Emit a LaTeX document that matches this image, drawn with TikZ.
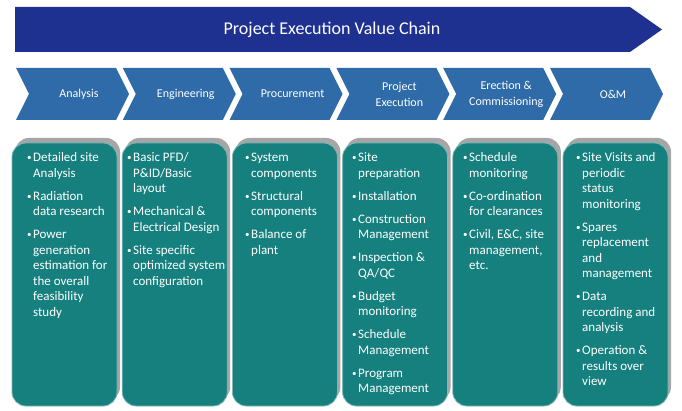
\documentclass[tikz,border=0pt]{standalone}
\usepackage{fontspec}
\setmainfont{Carlito}
\usetikzlibrary{shadows}
\definecolor{bannerblue}{HTML}{1F3190}
\definecolor{chevblue}{HTML}{2E6BA8}
\definecolor{tealbox}{HTML}{15807E}
\definecolor{tealedge}{HTML}{7FB5B4}
\definecolor{shadowgray}{HTML}{A6A6A6}
\newcommand\bul{\makebox[6pt][l]{\raisebox{1pt}{\fontsize{9}{9}\selectfont\textbullet}}}
\newcommand\ind{\hspace*{6pt}}
\begin{document}
\begin{tikzpicture}[x=1pt,y=-1pt,
  titletext/.style={text=white,font=\fontsize{18}{20}\selectfont,inner sep=0pt},
  chevlabel/.style={text=white,font=\fontsize{12}{16}\selectfont,align=center,inner sep=0pt},
  tbox/.style={fill=tealbox,draw=tealedge,line width=0.8pt,rounded corners=14pt,
    minimum width=105pt,minimum height=263pt,inner sep=0pt,
    drop shadow={shadow xshift=3pt,shadow yshift=5pt,fill=shadowgray,opacity=1}},
  boxtext/.style={text=white,inner sep=0pt,anchor=base west}]
\useasboundingbox (0,0) rectangle (682,411);
% banner
\fill[bannerblue] (15,7) -- (630,7) -- (662,29.5) -- (630,52) -- (15,52) -- cycle;
\node[titletext] (title) at (332,30) {Project Execution Value Chain};
% chevrons
\foreach \i/\lab in {0/Analysis,1/Engineering,2/Procurement,3/{Project\\Execution},4/{Erection \&\\Commissioning},5/O\&M}{
  \pgfmathsetmacro\l{16+106.8*\i}
  \fill[chevblue] (\l,68) -- (\l+100,68) -- (\l+113,94) -- (\l+100,120) -- (\l,120) -- (\l+13,94) -- cycle;
  \node[chevlabel] (c\i) at (\l+63,94) {\lab};
}
% boxes
\foreach \i in {0,...,5}{
  \pgfmathsetmacro\bl{12+110.2*\i}
  \node[tbox] (b\i) at (\bl+52.5,274.5) {};
}
\newcommand\btext[3]{\node[boxtext] (#1) at (#2,162) {\parbox[t]{110pt}{\raggedright\fontsize{13}{15.5}\selectfont #3}};}
\btext{t0}{27}{\bul Detailed site\\\ind Analysis\\[7.5pt]\bul Radiation\\\ind data research\\[7.5pt]\bul Power\\\ind generation\\\ind estimation for\\\ind the overall\\\ind feasibility\\\ind study}
\btext{t1}{127}{\bul Basic PFD/\\\ind P\&ID/Basic\\\ind layout\\[7.5pt]\bul Mechanical \&\\\ind Electrical Design\\[7.5pt]\bul Site specific\\\ind optimized system\\\ind configuration}
\btext{t2}{245}{\bul System\\\ind components\\[7.5pt]\bul Structural\\\ind components\\[7.5pt]\bul Balance of\\\ind plant}
\btext{t3}{352}{\bul Site\\\ind preparation\\[7.5pt]\bul Installation\\[7.5pt]\bul Construction\\\ind Management\\[7.5pt]\bul Inspection \&\\\ind QA/QC\\[7.5pt]\bul Budget\\\ind monitoring\\[7.5pt]\bul Schedule\\\ind Management\\[7.5pt]\bul Program\\\ind Management}
\btext{t4}{463}{\bul Schedule\\\ind monitoring\\[7.5pt]\bul Co-ordination\\\ind for clearances\\[7.5pt]\bul Civil, E\&C, site\\\ind management,\\\ind etc.}
\btext{t5}{576}{\bul Site Visits and\\\ind periodic\\\ind status\\\ind monitoring\\[7.5pt]\bul Spares\\\ind replacement\\\ind and\\\ind management\\[7.5pt]\bul Data\\\ind recording and\\\ind analysis\\[7.5pt]\bul Operation \&\\\ind results over\\\ind view}
\end{tikzpicture}
\end{document}
